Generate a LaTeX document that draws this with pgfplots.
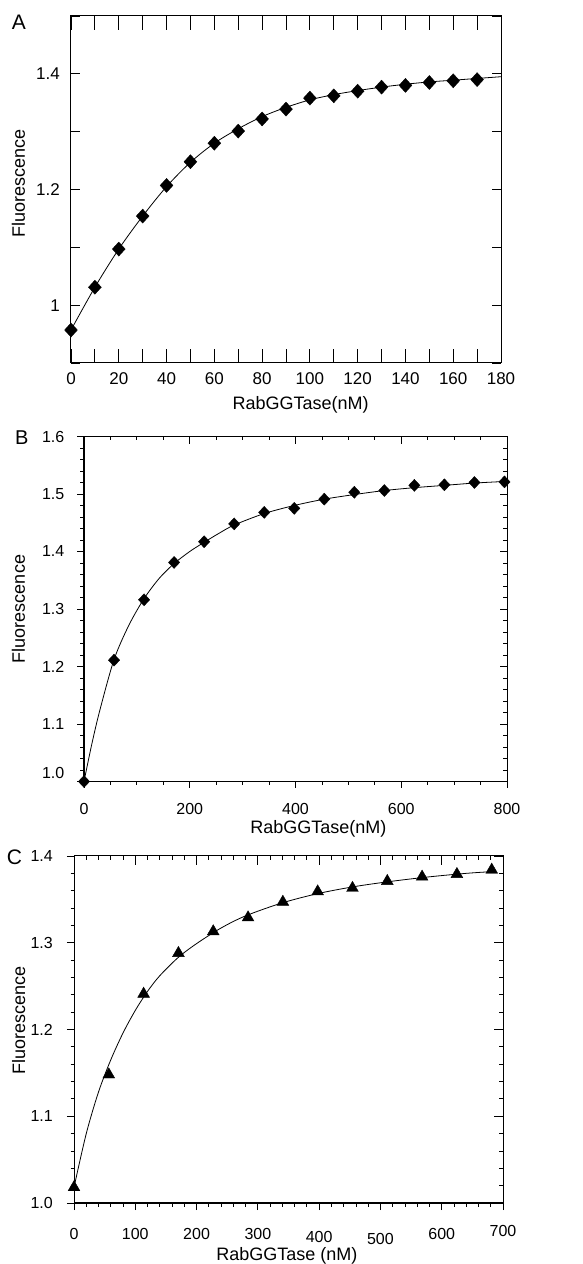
\documentclass[border=0pt]{standalone}
\usepackage{pgfplots}
\pgfplotsset{compat=1.18}
\usepackage{fontspec}
\setmainfont{Liberation Sans}
\pgfplotsset{
  panel/.style={scale only axis, clip=false, anchor=south west,
    axis line style={line width=1pt},
    every tick/.style={black,line width=0.8pt},
    tick label style={font=\fontsize{16}{18}\selectfont},
    label style={font=\fontsize{18}{21}\selectfont},
    /pgf/number format/assume math mode=true},
  curve/.style={black, line width=0.8pt, smooth, no marks},
}
\begin{document}
\begin{tikzpicture}
\useasboundingbox (0pt,0pt) rectangle (582pt,1264pt);
% ---------------- A ----------------
\begin{axis}[panel, at={(71pt,901pt)}, width=430pt, height=347pt,
  xmin=0, xmax=180, ymin=0.9, ymax=1.5,
  xtick={0,20,40,60,80,100,120,140,160,180}, minor x tick num=1,
  ytick=\empty,
  extra y ticks={0.9,1.0,1.1,1.2,1.3,1.4,1.5},
  extra y tick labels={,1,,1.2,,1.4,},
  extra y tick style={major tick length=9pt},
  tick align=inside, major tick length=14pt, minor tick length=14pt,
  tick label style={font=\fontsize{17}{19}\selectfont},
  xticklabel style={anchor=base, inner sep=0pt, yshift=-22pt},
  yticklabel style={anchor=east, inner sep=0pt, xshift=-11pt},
  xlabel={RabGGTase(nM)}, ylabel={Fluorescence},
  xlabel style={at={(axis description cs:0.534,-0.1326)}, anchor=base},
  ylabel style={at={(axis description cs:-0.1072,0.516)}, anchor=base},
]
\addplot[curve] coordinates {(0,0.957) (10,1.031) (20,1.097) (30,1.154) (40,1.205) (50,1.247) (60,1.280) (70,1.305) (80,1.326) (90,1.342) (100,1.355) (110,1.364) (120,1.371) (130,1.377) (140,1.382) (150,1.386) (160,1.389) (170,1.392) (180,1.395)};
\addplot[only marks, mark=diamond*, mark size=7pt, mark options={fill=black, draw=black, xscale=1.22}] coordinates {
(0,0.957) (10,1.031) (20,1.097) (30,1.154) (40,1.207) (50,1.248) (60,1.280) (70,1.301) (80,1.322) (90,1.339) (100,1.358) (110,1.362) (120,1.370) (130,1.377) (140,1.380) (150,1.385) (160,1.388) (170,1.390)};
\end{axis}
\node[anchor=base west, inner sep=0pt, font=\fontsize{21}{23}\selectfont] at (11.7pt,1234pt) {A};
% ---------------- B ----------------
\begin{axis}[panel, at={(84pt,482.5pt)}, width=423pt, height=345pt,
  xmin=0, xmax=800, ymin=1.0, ymax=1.6,
  xtick={0,200,400,600,800}, minor x tick num=3,
  ytick={1.0,1.1,1.2,1.3,1.4,1.5,1.6}, minor y tick num=4,
  yticklabels={\raisebox{8pt}[11pt][0pt]{1.0},1.1,1.2,1.3,1.4,1.5,1.6},
  tick align=outside, xtick pos=left, ytick pos=left,
  major tick length=6.5pt, minor tick length=3.5pt,
  xticklabel style={anchor=base, inner sep=0pt, yshift=-27pt},
  yticklabel style={anchor=east, inner sep=0pt, xshift=-13pt},
  xlabel={RabGGTase(nM)}, ylabel={Fluorescence},
  xlabel style={at={(axis description cs:0.554,-0.151)}, anchor=base},
  ylabel style={at={(axis description cs:-0.1395,0.5)}, anchor=base},
]
\addplot[curve] coordinates {(0,1.000) (15,1.066) (30,1.124) (56.8,1.212) (85,1.272) (113.6,1.318) (142,1.353) (170.4,1.379) (200,1.400) (227.2,1.416) (256,1.432) (284,1.446) (340.8,1.466) (397.6,1.480) (454.4,1.491) (511.2,1.499) (568,1.506) (624.8,1.511) (681.6,1.515) (738.4,1.519) (800,1.522)};
\addplot[only marks, mark=diamond*, mark size=6pt, mark options={fill=black, draw=black, xscale=1.25}] coordinates {
(0,1.000) (56.8,1.211) (113.6,1.316) (170.4,1.381) (227.2,1.417) (284,1.448) (340.8,1.468) (397.6,1.475) (454.4,1.491) (511.2,1.503) (568,1.506) (624.8,1.515) (681.6,1.516) (738.4,1.520) (795.2,1.521)};
\end{axis}
\begin{axis}[at={(84pt,482.5pt)}, anchor=south west, scale only axis, width=423pt, height=345pt,
  xmin=0, xmax=800, ymin=1.0, ymax=1.6,
  xtick={0,200,400,600,800}, minor x tick num=3,
  ytick={1.0,1.1,1.2,1.3,1.4,1.5,1.6}, minor y tick num=4,
  xticklabels={}, yticklabels={},
  tick align=inside, xtick pos=right, ytick pos=right,
  axis line style={line width=1pt}, every tick/.style={black,line width=0.8pt},
  major tick length=7.5pt, minor tick length=4pt]
\end{axis}
\node[anchor=base west, inner sep=0pt, font=\fontsize{20}{22}\selectfont] at (15pt,819pt) {B};
% ---------------- C ----------------
\begin{axis}[panel, at={(74pt,61pt)}, width=429pt, height=347pt,
  xmin=0, xmax=700, ymin=1.0, ymax=1.4,
  xtick={0,100,200,300,400,500,600,700}, minor x tick num=4,
  xticklabels={0,100,200,300,\raisebox{-3.5pt}{400},\raisebox{-5pt}{500},600,\raisebox{3pt}{700}},
  ytick={1.0,1.1,1.2,1.3,1.4}, minor y tick num=4,
  yticklabels={1.0,1.1,1.2,1.3,1.4},
  tick align=outside, xtick pos=left, ytick pos=left,
  major tick length=7pt, minor tick length=3.5pt,
  xticklabel style={anchor=base, inner sep=0pt, yshift=-29pt},
  yticklabel style={anchor=east, inner sep=0pt, xshift=-14pt},
  xlabel={RabGGTase (nM)}, ylabel={Fluorescence},
  xlabel style={at={(axis description cs:0.496,-0.167)}, anchor=base},
  ylabel style={at={(axis description cs:-0.1142,0.527)}, anchor=base},
]
\addplot[curve] coordinates {(0,1.018) (20,1.080) (40,1.128) (60,1.165) (80,1.196) (100,1.222) (120,1.244) (140,1.262) (170,1.283) (200,1.299) (240,1.317) (280,1.331) (340,1.346) (400,1.357) (460,1.365) (520,1.371) (580,1.376) (640,1.380) (682,1.382)};
\addplot[only marks, mark=triangle*, mark size=6.8pt, mark options={fill=black, draw=black}] coordinates {
(0,1.018) (56.8,1.148) (113.6,1.241) (170.4,1.288) (227.2,1.313) (284,1.329) (340.8,1.347) (397.6,1.359) (454.4,1.363) (511.2,1.371) (568,1.376) (624.8,1.379) (681.6,1.384)};
\end{axis}
\begin{axis}[at={(74pt,61pt)}, anchor=south west, scale only axis, width=429pt, height=347pt,
  xmin=0, xmax=700, ymin=1.0, ymax=1.4,
  xtick={0,100,200,300,400,500,600,700}, minor x tick num=4,
  ytick={1.0,1.1,1.2,1.3,1.4}, minor y tick num=4,
  xticklabels={}, yticklabels={},
  tick align=inside, xtick pos=right, ytick pos=right,
  axis line style={line width=1pt}, every tick/.style={black,line width=0.8pt},
  major tick length=9pt, minor tick length=4.5pt]
\end{axis}
\node[anchor=base west, inner sep=0pt, font=\fontsize{21}{23}\selectfont] at (6.7pt,399pt) {C};
\end{tikzpicture}
\end{document}
